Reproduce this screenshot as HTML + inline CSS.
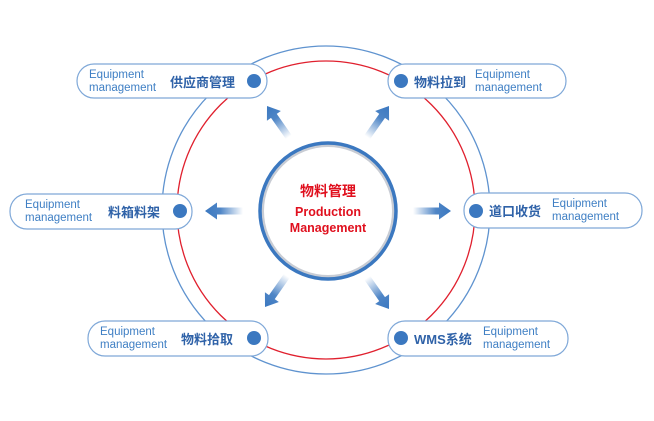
<!DOCTYPE html>
<html><head><meta charset="utf-8"><style>
html,body{margin:0;padding:0;background:#fff;}
svg{display:block}
text{font-family:"Liberation Sans","Noto Sans CJK SC",sans-serif;}
.en{fill:#3f7fc4;font-size:11.5px;}
.cn{fill:#2f62a8;font-size:13px;font-weight:bold;}
.pill{fill:#fff;stroke:#7fa8d8;stroke-width:1.2;}
.dot{fill:#3b78c0;}
</style></head><body>
<svg width="654" height="421" viewBox="0 0 654 421" xmlns="http://www.w3.org/2000/svg">
<defs>
<linearGradient id="g" x1="0" x2="1" y1="0" y2="0">
<stop offset="0" stop-color="#3b78c0" stop-opacity="0"/>
<stop offset="0.6" stop-color="#3b78c0" stop-opacity="0.9"/>
<stop offset="1" stop-color="#3b78c0"/>
</linearGradient>
<g id="arr"><path d="M-38,-3.5 L-12,-3.5 L-12,-8.5 L0,0 L-12,8.5 L-12,3.5 L-38,3.5 Z" fill="url(#g)"/></g>
</defs>
<circle cx="326" cy="210" r="164" fill="none" stroke="#5f93cf" stroke-width="1.3"/>
<circle cx="326" cy="210" r="149" fill="none" stroke="#e0202e" stroke-width="1.3"/>
<circle cx="328" cy="211" r="66" fill="#fff" stroke="#c8ccd4" stroke-width="4"/>
<circle cx="328" cy="211" r="68" fill="none" stroke="#3b78c0" stroke-width="3.5"/>
<text x="328" y="196" text-anchor="middle" fill="#e0101e" font-size="14" font-weight="bold">物料管理</text>
<text x="328" y="216" text-anchor="middle" fill="#e0101e" font-size="12.5" font-weight="bold">Production</text>
<text x="328" y="232" text-anchor="middle" fill="#e0101e" font-size="12.5" font-weight="bold">Management</text>

<use href="#arr" transform="translate(205,211) rotate(180)"/>
<use href="#arr" transform="translate(451,211)"/>
<use href="#arr" transform="translate(267,106) rotate(-125)"/>
<use href="#arr" transform="translate(389,106) rotate(-55)"/>
<use href="#arr" transform="translate(265,307) rotate(125)"/>
<use href="#arr" transform="translate(389,309) rotate(55)"/>

<rect class="pill" x="77" y="64" width="190" height="34" rx="17"/>
<text class="en" x="89" y="78">Equipment</text><text class="en" x="89" y="91">management</text>
<text class="cn" x="170" y="87">供应商管理</text>
<circle class="dot" cx="254" cy="81" r="7"/>

<rect class="pill" x="388" y="64" width="178" height="34" rx="17"/>
<text class="cn" x="414" y="87">物料拉到</text>
<text class="en" x="475" y="78">Equipment</text><text class="en" x="475" y="91">management</text>
<circle class="dot" cx="401" cy="81" r="7"/>

<rect class="pill" x="10" y="194" width="182" height="35" rx="17"/>
<text class="en" x="25" y="208">Equipment</text><text class="en" x="25" y="221">management</text>
<text class="cn" x="108" y="217">料箱料架</text>
<circle class="dot" cx="180" cy="211" r="7"/>

<rect class="pill" x="464" y="193" width="178" height="35" rx="17"/>
<text class="cn" x="489" y="216">道口收货</text>
<text class="en" x="552" y="207">Equipment</text><text class="en" x="552" y="220">management</text>
<circle class="dot" cx="476" cy="211" r="7"/>

<rect class="pill" x="88" y="321" width="180" height="35" rx="17"/>
<text class="en" x="100" y="335">Equipment</text><text class="en" x="100" y="348">management</text>
<text class="cn" x="181" y="344">物料拾取</text>
<circle class="dot" cx="254" cy="338" r="7"/>

<rect class="pill" x="388" y="321" width="180" height="35" rx="17"/>
<text class="cn" x="414" y="344">WMS系统</text>
<text class="en" x="483" y="335">Equipment</text><text class="en" x="483" y="348">management</text>
<circle class="dot" cx="401" cy="338" r="7"/>
</svg>
</body></html>
